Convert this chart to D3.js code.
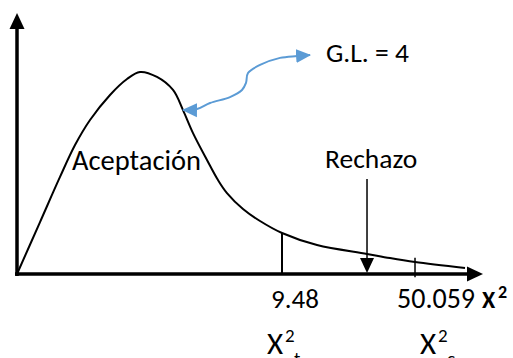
<!DOCTYPE html>
<html>
<head>
<meta charset="utf-8">
<script src="https://cdn.jsdelivr.net/npm/d3@7"></script>
<style>
  body { margin: 0; background: #fff; }
  text { font-family: Carlito, Calibri, Lato, sans-serif; fill: #000; }
</style>
</head>
<body>
<svg id="chart"></svg>
<script>
// curva chi-cuadrado esquematica (unidades del dibujo, no valores reales)
const curveX = [0, 4.94, 9.23, 12.45, 15.67, 19.96, 23.61, 26.39, 30.04, 33.48, 35.62, 37.77,
  40.77, 43.13, 45.06, 48.5, 52.15, 56.87, 64.38, 75.11, 80.04, 85.41, 96.14];
const curveY = [0, 19.9, 37.2, 49.4, 59.0, 68.6, 74.7, 77.4, 75.5, 70.5, 62.8, 54,
  43.7, 36, 31.0, 24.9, 20.3, 15.7, 11.1, 7.7, 6.1, 4.6, 2.3];

// valores criticos
const tickPos = [56.87, 85.41];
const tickLabels = ["9.48", "50.059"];
const tickSubs = ["t", "c"];
const rejectPos = 75.11;

// flecha azul G.L.
const glX = [35.62, 38.63, 41.42, 45.71, 48.28, 49.14, 49.57, 52.15, 56.44, 60.09, 62.88];
const glY = [62.8, 63.2, 65.5, 67.8, 70.5, 73.2, 77.0, 80.1, 82.8, 83.5, 83.9];

const width = 513;
const height = 358;

const x = d3.scaleLinear().domain([0, 100]).range([17, 483]);
const y = d3.scaleLinear().domain([0, 100]).range([274, 13]);

const svg = d3.select("#chart")
  .attr("width", width)
  .attr("height", height);

const curveData = curveX.map((d, i) => [d, curveY[i]]);
const valueAt = u => {
  const i = d3.bisector(d => d[0]).left(curveData, u);
  const a = curveData[i - 1], b = curveData[i];
  return a[1] + (b[1] - a[1]) * (u - a[0]) / (b[0] - a[0]);
};

// ejes con flechas
svg.append("line")
  .attr("x1", x(0)).attr("x2", x(0))
  .attr("y1", y(0) + 2).attr("y2", y(100) + 14)
  .attr("stroke", "#000").attr("stroke-width", 3.5);
svg.append("path")
  .attr("d", `M${x(0)},${y(100)} L${x(0) - 7.5},${y(100) + 16} L${x(0) + 7.5},${y(100) + 16} Z`)
  .attr("fill", "#000");

svg.append("line")
  .attr("x1", x(0) - 2).attr("x2", x(100) - 14)
  .attr("y1", y(0)).attr("y2", y(0))
  .attr("stroke", "#000").attr("stroke-width", 3.5);
svg.append("path")
  .attr("d", `M${x(100)},${y(0)} L${x(100) - 16},${y(0) - 7.5} L${x(100) - 16},${y(0) + 7.5} Z`)
  .attr("fill", "#000");

// curva
svg.append("path")
  .datum(curveData)
  .attr("d", d3.line().x(d => x(d[0])).y(d => y(d[1])).curve(d3.curveCatmullRom.alpha(0.5)))
  .attr("fill", "none")
  .attr("stroke", "#000")
  .attr("stroke-width", 2);

// marcas de los valores criticos
svg.append("line")
  .attr("x1", x(tickPos[0])).attr("x2", x(tickPos[0]))
  .attr("y1", y(0)).attr("y2", y(valueAt(tickPos[0])))
  .attr("stroke", "#000").attr("stroke-width", 2);
svg.append("line")
  .attr("x1", x(tickPos[1])).attr("x2", x(tickPos[1]))
  .attr("y1", y(-1.2)).attr("y2", y(valueAt(tickPos[1]) + 1.6))
  .attr("stroke", "#000").attr("stroke-width", 1.5);

// flecha de rechazo
svg.append("line")
  .attr("x1", x(rejectPos)).attr("x2", x(rejectPos))
  .attr("y1", y(36.4)).attr("y2", y(0) - 12)
  .attr("stroke", "#000").attr("stroke-width", 1.5);
svg.append("path")
  .attr("d", `M${x(rejectPos)},${y(0) - 1} L${x(rejectPos) - 7},${y(0) - 16} L${x(rejectPos) + 7},${y(0) - 16} Z`)
  .attr("fill", "#000");

// flecha azul doble
const blue = "#5B9BD5";
const defs = svg.append("defs");
defs.append("marker")
  .attr("id", "head")
  .attr("viewBox", "0 0 16 16")
  .attr("refX", 14).attr("refY", 8)
  .attr("markerWidth", 16).attr("markerHeight", 16)
  .attr("markerUnits", "userSpaceOnUse")
  .attr("orient", "auto-start-reverse")
  .append("path")
  .attr("d", "M0,1 L15,8 L0,15 Z")
  .attr("fill", blue);

svg.append("path")
  .datum(glX.map((d, i) => [d, glY[i]]))
  .attr("d", d3.line().x(d => x(d[0])).y(d => y(d[1])).curve(d3.curveCatmullRom))
  .attr("fill", "none")
  .attr("stroke", blue)
  .attr("stroke-width", 2)
  .attr("marker-start", "url(#head)")
  .attr("marker-end", "url(#head)");

// textos
const label = (txt, px, py, size, weight) => svg.append("text")
  .attr("x", px).attr("y", py)
  .attr("font-size", size)
  .attr("font-weight", weight || "normal")
  .text(txt);

label("G.L. = 4", 326, 62, 27.5);
label("Aceptación", 72, 170, 28.5);
label("Rechazo", 325, 168, 27.5);

label(tickLabels[0], 271, 308, 27);
label(tickLabels[1], 397, 308, 28);

label("X", 482, 308, 24, "bold");
label("2", 498, 298, 18, "bold");

// X²t y X²c debajo
const subX = [267, 420];
subX.forEach((sx, i) => {
  label("X", sx, 354, 31);
  label("2", sx + 18, 342, 19);
  label(tickSubs[i], sx + 27, 365, 19);
});
</script>
</body>
</html>
